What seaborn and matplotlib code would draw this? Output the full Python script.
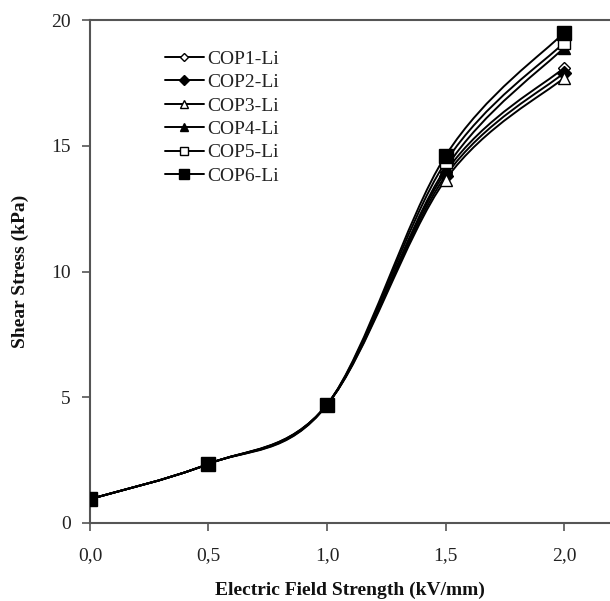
import numpy as np
import pandas as pd
import matplotlib
matplotlib.use("Agg")
import matplotlib.pyplot as plt
from matplotlib.path import Path
from matplotlib.patches import PathPatch
from matplotlib.lines import Line2D
import seaborn as sns

field = [0.0, 0.5, 1.0, 1.5, 2.0]
series_names = ["COP1-Li", "COP2-Li", "COP3-Li", "COP4-Li", "COP5-Li", "COP6-Li"]
cop1 = [0.95, 2.35, 4.70, 13.95, 18.1]
cop2 = [0.95, 2.35, 4.70, 13.80, 17.9]
cop3 = [0.95, 2.35, 4.70, 13.65, 17.7]
cop4 = [0.95, 2.35, 4.70, 14.10, 18.9]
cop5 = [0.95, 2.35, 4.70, 14.35, 19.1]
cop6 = [0.95, 2.35, 4.70, 14.60, 19.5]
values = [cop1, cop2, cop3, cop4, cop5, cop6]
x_ticks = [0.0, 0.5, 1.0, 1.5, 2.0]
x_tick_labels = ["0,0", "0,5", "1,0", "1,5", "2,0"]
y_ticks = [0, 5, 10, 15, 20]

markers = ["D", "D", "^", "^", "s", "s"]
facecolors = ["white", "black", "white", "black", "white", "black"]
msizes = [6, 7, 8, 8, 8, 10]

sns.set_theme(style="white")
plt.rcParams["font.family"] = ["Liberation Serif", "DejaVu Serif"]

rows = []
for name, vals in zip(series_names, values):
    for xv, yv in zip(field, vals):
        rows.append({"field": xv, "stress": yv, "series": name})
df = pd.DataFrame(rows)

fig = plt.figure(figsize=(6.10, 6.01), dpi=100)
ax = fig.add_axes([0.1475, 0.1298, 0.8525, 0.8369])


def smooth_path(xs, ys):
    # Excel-like smoothed line: cubic Bezier segments through the data points
    xs = np.asarray(xs, float)
    ys = np.asarray(ys, float)
    n = len(xs)
    verts = [(xs[0], ys[0])]
    codes = [Path.MOVETO]
    for i in range(n - 1):
        p0 = np.array([xs[max(i - 1, 0)], ys[max(i - 1, 0)]])
        p1 = np.array([xs[i], ys[i]])
        p2 = np.array([xs[i + 1], ys[i + 1]])
        p3 = np.array([xs[min(i + 2, n - 1)], ys[min(i + 2, n - 1)]])
        c1 = p1 + (p2 - p0) / 6.0
        c2 = p2 - (p3 - p1) / 6.0
        verts += [tuple(c1), tuple(c2), tuple(p2)]
        codes += [Path.CURVE4, Path.CURVE4, Path.CURVE4]
    return Path(verts, codes)


for name, vals in zip(series_names, values):
    patch = PathPatch(smooth_path(field, vals), facecolor="none",
                      edgecolor="black", lw=1.4, zorder=2)
    ax.add_patch(patch)

for name, m, fc, ms in zip(series_names, markers, facecolors, msizes):
    sub = df[df["series"] == name]
    sns.lineplot(data=sub, x="field", y="stress", ax=ax, linestyle="",
                 marker=m, markersize=ms, markerfacecolor=fc,
                 markeredgecolor="black", markeredgewidth=1.0,
                 color="black", legend=False, zorder=3)

ax.set_xlim(0, 2.194)
ax.set_ylim(0, 20)
ax.set_xticks(x_ticks)
ax.set_xticklabels(x_tick_labels)
ax.set_yticks(y_ticks)
ax.tick_params(axis="both", which="major", direction="out", length=6,
               width=1.2, color="#555555", labelsize=14, labelcolor="#222222",
               bottom=True, left=True)
ax.tick_params(axis="x", pad=11)
ax.tick_params(axis="y", pad=8)
for side in ["left", "bottom", "top"]:
    ax.spines[side].set_color("#555555")
    ax.spines[side].set_linewidth(1.5)
ax.spines["right"].set_visible(False)

ax.set_xlabel("Electric Field Strength (kV/mm)", fontsize=14, fontweight="bold",
              labelpad=13, color="#111111")
ax.set_ylabel("Shear Stress (kPa)", fontsize=14, fontweight="bold",
              labelpad=16, color="#111111")

handles = [Line2D([0], [0], color="black", lw=1.4, marker=m,
                  markerfacecolor=fc, markeredgecolor="black",
                  markersize=ms * 0.75, markeredgewidth=1.0)
           for m, fc, ms in zip(markers, facecolors, msizes)]
ax.legend(handles, series_names, loc="upper left",
          bbox_to_anchor=(0.11, 0.975), frameon=False, fontsize=14,
          handlelength=2.0, handletextpad=0.2, labelspacing=0.3,
          labelcolor="#222222")

fig.savefig("out.png", dpi=100)
